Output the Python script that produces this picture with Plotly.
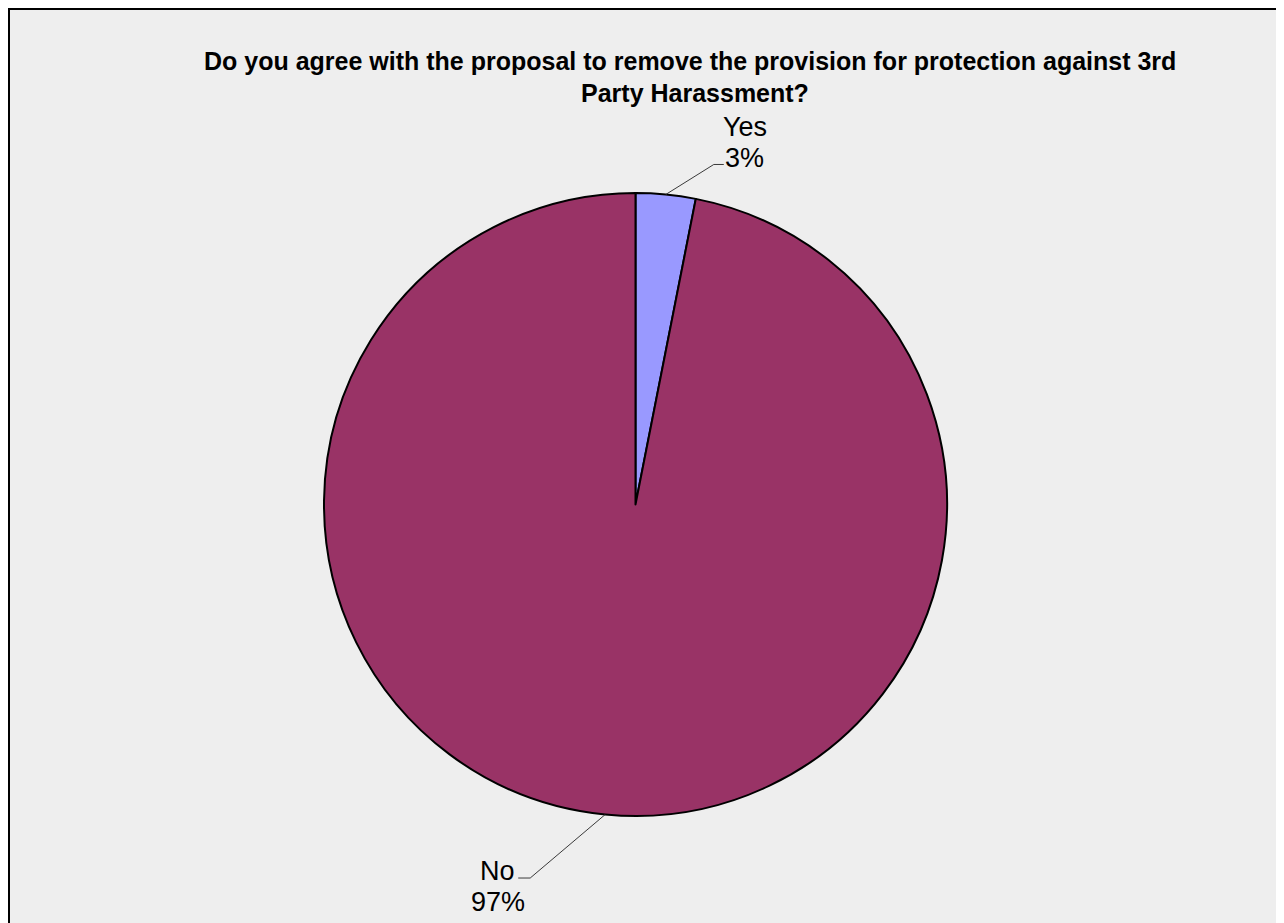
import math
import plotly.graph_objects as go

# ---- data ----
labels = ["Yes", "No"]
values = [3.1, 96.9]
colors = ["#9999ff", "#993366"]
title_lines = ["Do you agree with the proposal to remove the provision for protection against 3rd",
               "Party Harassment?"]

# page offset (body margin) and figure size
OFF = 8
FW, FH = 1276, 915
CX, CY, R = 635.5, 504.5, 311.5   # pie centre / radius in page pixels


def fx(x):
    return (x - OFF) / FW


def fy(y):
    return 1 - (y - OFF) / FH


FONT = "Liberation Sans, Arial, sans-serif"

fig = go.Figure()
fig.add_trace(go.Pie(
    labels=labels, values=values, sort=False, direction="clockwise", rotation=0,
    marker=dict(colors=colors, line=dict(color="#000000", width=2)),
    textinfo="none", hoverinfo="label+percent", showlegend=False,
    domain=dict(x=[fx(CX - R), fx(CX + R)], y=[fy(CY + R), fy(CY - R)]),
))

shapes = [dict(type="rect", xref="paper", yref="paper", layer="below",
               x0=1 / FW, x1=1.05, y0=-0.05, y1=1 - 1 / FH,
               fillcolor="#eeeeee", line=dict(color="#000000", width=2))]

annotations = []
for line, (tx_c, ty_c) in zip(title_lines, [(690.5, 60.5), (695, 91.7)]):
    annotations.append(dict(text="<b>" + line + "</b>", xref="paper", yref="paper",
                            x=fx(tx_c), y=fy(ty_c + 1), xanchor="center", yanchor="middle",
                            showarrow=False, font=dict(family=FONT, size=25, color="#000000")))

total = sum(values)
cum = 0.0
# knee offset from slice edge, horizontal tail, label centre offset from tail end,
# cap-centre offsets of the two label lines from the knee
leader = {"Yes": ((48, -30), 10, 21, (-38.5, -7)),
          "No": ((-75, 63.5), -12, -20.5, (-8.5, 22.5))}
for lab, v in zip(labels, values):
    mid = (cum + v / 2) / total * 2 * math.pi
    cum += v
    ex, ey = CX + R * math.sin(mid), CY - R * math.cos(mid)
    (dx, dy), hz, lxo, (l1, l2) = leader[lab]
    kx, ky = ex + dx, ey + dy
    tx = kx + hz
    shapes.append(dict(type="path", xref="paper", yref="paper",
                       path=f"M {fx(ex)},{fy(ey)} L {fx(kx)},{fy(ky)} L {fx(tx)},{fy(ky)}",
                       line=dict(color="#3a3a3a", width=1)))
    pct = round(v / total * 100)
    for txt, off in ((lab, l1), (f"{pct}%", l2)):
        annotations.append(dict(text=txt, xref="paper", yref="paper",
                                x=fx(tx + lxo), y=fy(ky + off + 1), xanchor="center",
                                yanchor="middle", showarrow=False,
                                font=dict(family=FONT, size=27, color="#000000")))

fig.update_layout(width=FW, height=FH, margin=dict(l=0, r=0, t=0, b=0, pad=0),
                  paper_bgcolor="#ffffff", plot_bgcolor="#ffffff",
                  shapes=shapes, annotations=annotations)
fig.write_html("out.html")
